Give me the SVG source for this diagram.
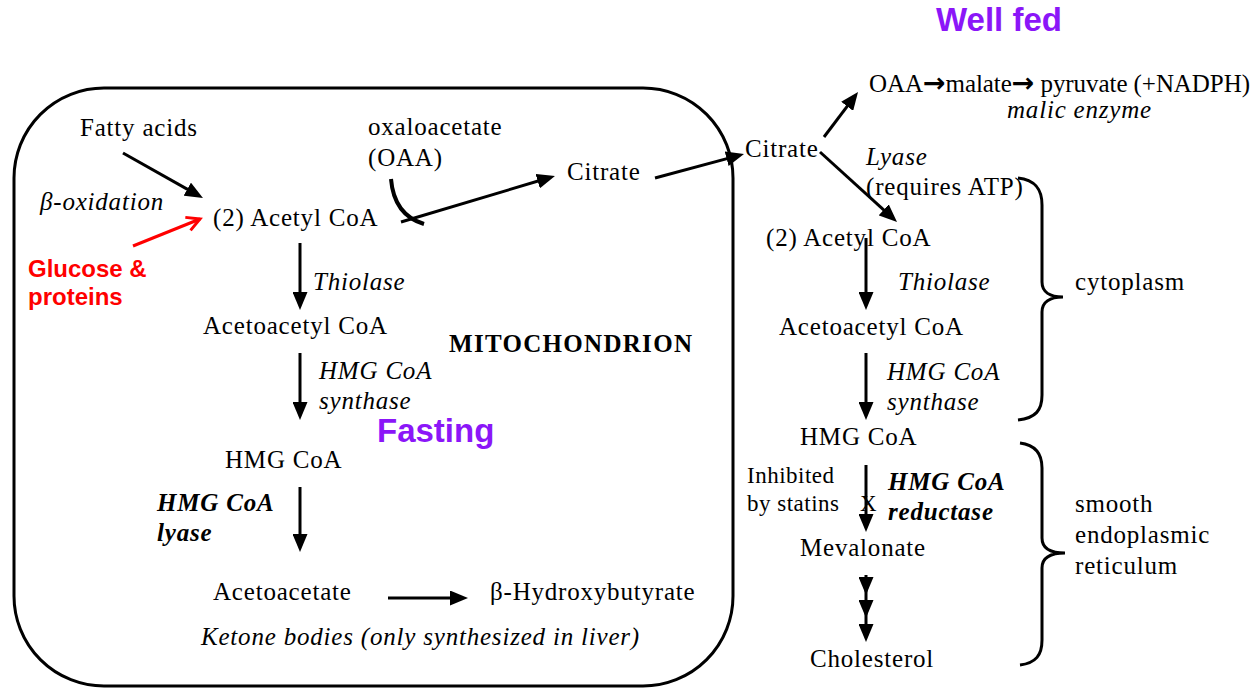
<svg xmlns="http://www.w3.org/2000/svg" width="1260" height="696" viewBox="0 0 1260 696">
<style>
.t{font-family:"Liberation Serif","Times New Roman",serif;font-size:25px;letter-spacing:0.8px;fill:#000}
.i{font-style:italic}
.b{font-weight:bold}
.sm{font-size:23px;letter-spacing:0.5px}
.red{font-family:"Liberation Sans",Arial,sans-serif;font-weight:bold;font-size:24px;fill:#ff0000}
.pur{font-family:"Liberation Sans",Arial,sans-serif;font-weight:bold;font-size:33px;fill:#8B16F8}
.ar{font-family:"DejaVu Sans",sans-serif;font-size:27px;font-weight:bold;letter-spacing:0}
.ln{stroke:#000;stroke-width:3;fill:none}
.arr{marker-end:url(#ah)}
</style>
<defs>
<marker id="ah" markerUnits="userSpaceOnUse" markerWidth="18" markerHeight="15" refX="10" refY="7.5" orient="auto" viewBox="0 0 18 15">
<path d="M0,0 L18,7.5 L0,15 z" fill="#000"/>
</marker>
<marker id="ahr" markerUnits="userSpaceOnUse" markerWidth="18" markerHeight="18" refX="15" refY="9" orient="auto" viewBox="0 0 18 18">
<path d="M2,2 L15,9 L2,16" fill="none" stroke="#ff0000" stroke-width="3"/>
</marker>
</defs>
<rect width="1260" height="696" fill="#fff"/>

<g id="mitochondrion">
<rect x="14" y="88" width="719" height="598" rx="90" ry="90" fill="none" stroke="#000" stroke-width="3"/>
<text class="t b" x="449" y="352" style="letter-spacing:1.3px">MITOCHONDRION</text>
<text class="pur" x="377" y="442">Fasting</text>
</g>

<g id="fatty-acids"><text class="t" x="80" y="136">Fatty acids</text></g>
<g id="oaa"><text class="t" x="368" y="135">oxaloacetate</text><text class="t" x="368" y="166">(OAA)</text></g>
<g id="citrate-mito"><text class="t" x="567" y="180">Citrate</text></g>
<g id="beta-oxidation"><text class="t i" x="40" y="210">β-oxidation</text></g>
<g id="acetylcoa-mito"><text class="t" x="213" y="226">(2) Acetyl CoA</text></g>
<g id="glucose"><text class="red" x="28" y="277">Glucose &amp;</text><text class="red" x="28" y="305">proteins</text></g>
<g id="thiolase-mito"><text class="t i" x="313" y="290">Thiolase</text></g>
<g id="acetoacetylcoa-mito"><text class="t" x="203" y="334">Acetoacetyl CoA</text></g>
<g id="hmgsynthase-mito"><text class="t i" x="319" y="379">HMG CoA</text><text class="t i" x="319" y="409">synthase</text></g>
<g id="hmgcoa-mito"><text class="t" x="225" y="468">HMG CoA</text></g>
<g id="hmglyase"><text class="t b i" x="157" y="511">HMG CoA</text><text class="t b i" x="157" y="541">lyase</text></g>
<g id="acetoacetate"><text class="t" x="213" y="600">Acetoacetate</text></g>
<g id="hydroxybutyrate"><text class="t" x="490" y="600">β-Hydroxybutyrate</text></g>
<g id="ketone"><text class="t i" x="201" y="645">Ketone bodies (only synthesized in liver)</text></g>

<g id="well-fed"><text class="pur" x="936" y="31">Well fed</text></g>
<g id="oaa-malate"><text class="t" x="869" y="92" style="letter-spacing:0" textLength="381" lengthAdjust="spacing">OAA<tspan class="ar">→</tspan>malate<tspan class="ar">→</tspan> pyruvate (+NADPH)</text><text class="t i" x="1007" y="118">malic enzyme</text></g>
<g id="citrate-cyto"><text class="t" x="745" y="157">Citrate</text></g>
<g id="lyase-cyto"><text class="t i" x="866" y="165">Lyase</text><text class="t" x="866" y="195">(requires ATP)</text></g>
<g id="acetylcoa-cyto"><text class="t" x="766" y="246">(2) Acetyl CoA</text></g>
<g id="thiolase-cyto"><text class="t i" x="898" y="290">Thiolase</text></g>
<g id="acetoacetylcoa-cyto"><text class="t" x="779" y="335">Acetoacetyl CoA</text></g>
<g id="hmgsynthase-cyto"><text class="t i" x="887" y="380">HMG CoA</text><text class="t i" x="887" y="410">synthase</text></g>
<g id="hmgcoa-cyto"><text class="t" x="800" y="445">HMG CoA</text></g>
<g id="statins"><text class="t sm" x="747" y="483">Inhibited</text><text class="t sm" x="747" y="511">by statins</text><text class="t sm" x="860" y="511">X</text></g>
<g id="hmgreductase"><text class="t b i" x="888" y="490">HMG CoA</text><text class="t b i" x="888" y="520">reductase</text></g>
<g id="mevalonate"><text class="t" x="800" y="556">Mevalonate</text></g>
<g id="cholesterol"><text class="t" x="810" y="667">Cholesterol</text></g>
<g id="cytoplasm">
<path class="ln" d="M1018,178 C1036,180 1042,190 1042,205 L1042,282 C1042,292 1050,297 1063,297 C1050,297 1042,302 1042,312 L1042,395 C1042,410 1036,418 1018,420"/>
<text class="t" x="1075" y="290">cytoplasm</text>
</g>
<g id="ser">
<path class="ln" d="M1020,443 C1036,445 1042,455 1042,468 L1042,538 C1042,548 1050,553 1065,553 C1050,553 1042,558 1042,568 L1042,640 C1042,655 1036,663 1020,665"/>
<text class="t" x="1075" y="512">smooth</text>
<text class="t" x="1075" y="543">endoplasmic</text>
<text class="t" x="1075" y="574">reticulum</text>
</g>

<g id="connectors">
<path class="ln arr" d="M123,153 L196,194.1"/>
<path d="M133,246 L200,219" stroke="#ff0000" stroke-width="3" fill="none" marker-end="url(#ahr)"/>
<path d="M391,179 C393,203 404,218 424,224" stroke="#000" stroke-width="4" fill="none"/>
<path class="ln arr" d="M401,222 L547.3,178.3"/>
<path class="ln arr" d="M655,178 L736.3,156.1"/>
<path class="ln arr" d="M824,137 L853.2,98.4"/>
<path class="ln arr" d="M820,152 L891.1,216.6"/>
<path class="ln arr" d="M300,243 L300,302"/>
<path class="ln arr" d="M300,353 L300,412"/>
<path class="ln arr" d="M300,487 L300,544"/>
<path class="ln arr" d="M388,598 L460,598"/>
<path class="ln arr" d="M866,238 L866,302"/>
<path class="ln arr" d="M866,353 L866,412"/>
<path class="ln arr" d="M866,465 L866,524"/>
<path class="ln" d="M866,575 L866,587 L866,610 L866,634" marker-mid="url(#ah)" marker-end="url(#ah)"/>
</g>
</svg>
